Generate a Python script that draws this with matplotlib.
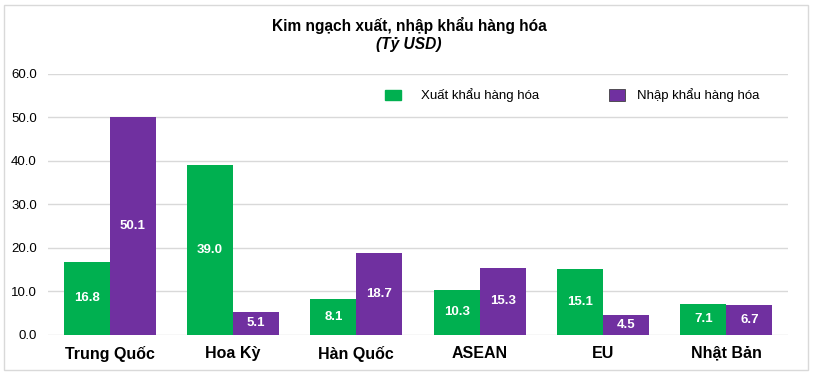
import matplotlib
matplotlib.use("Agg")
import matplotlib.pyplot as plt
import numpy as np
from matplotlib.patches import Patch, Rectangle

plt.rcParams['font.family'] = ['Liberation Sans', 'DejaVu Sans']

categories = ["Trung Quốc", "Hoa Kỳ", "Hàn Quốc", "ASEAN", "EU", "Nhật Bản"]
xuat_khau = [16.8, 39.0, 8.1, 10.3, 15.1, 7.1]
nhap_khau = [50.1, 5.1, 18.7, 15.3, 4.5, 6.7]
series_names = ["Xuất khẩu hàng hóa", "Nhập khẩu hàng hóa"]
yticks = [0, 10, 20, 30, 40, 50, 60]

GREEN = "#00B050"
PURPLE = "#7030A0"
GRID = "#D9D9D9"

fig = plt.figure(figsize=(8.18, 3.77), dpi=100)
fig.patches.append(Rectangle((4/818, 1-370/377), 804/818, 365/377, transform=fig.transFigure,
                             fill=False, edgecolor=GRID, linewidth=1.0))
ax = fig.add_axes([48/818, 1-334.5/377, 740/818, 260.5/377])

x = np.arange(len(categories))
w = 0.373
b1 = ax.bar(x - w/2, xuat_khau, w, color=GREEN, zorder=3)
b2 = ax.bar(x + w/2, nhap_khau, w, color=PURPLE, zorder=3)

for bars, vals in ((b1, xuat_khau), (b2, nhap_khau)):
    for r, v in zip(bars, vals):
        ax.text(r.get_x() + r.get_width()/2, v/2, f"{v:.1f}", ha="center", va="center",
                color="white", fontsize=9.5, fontweight="bold", zorder=4)

ax.set_xlim(-0.5, len(categories) - 0.5)
ax.set_ylim(0, 60)
ax.set_yticks(yticks)
ax.set_yticklabels([f"{t:.1f}" for t in yticks], fontsize=9.5, color="#000000")
ax.set_xticks(x)
ax.set_xticklabels(categories, fontsize=11.5, fontweight="bold", color="#000000")
ax.tick_params(axis="both", length=0)
ax.tick_params(axis="y", pad=8)
ax.tick_params(axis="x", pad=8)
for s in ax.spines.values():
    s.set_visible(False)
ax.grid(axis="y", color=GRID, linewidth=1.0, zorder=0)
ax.set_axisbelow(True)

fig.text(409/818, 1-25/377, "Kim ngạch xuất, nhập khẩu hàng hóa", ha="center", va="center",
         fontsize=11.2, fontweight="bold")
fig.text(409/818, 1-45/377, "(Tỷ USD)", ha="center", va="center",
         fontsize=11.2, fontweight="bold", style="italic")

h_green = Patch(facecolor=GREEN, edgecolor=GREEN)
h_purple = Patch(facecolor=PURPLE, edgecolor="#404040", linewidth=0.6)
leg1 = fig.legend([h_green], [series_names[0]], loc="center left", bbox_to_anchor=(385/818, 1-95.5/377),
                  frameon=False, fontsize=9.5, handlelength=1.2, handleheight=0.85,
                  handletextpad=1.5, borderaxespad=0, borderpad=0)
leg2 = fig.legend([h_purple], [series_names[1]], loc="center left", bbox_to_anchor=(609/818, 1-95.5/377),
                  frameon=False, fontsize=9.5, handlelength=1.25, handleheight=0.95,
                  handletextpad=0.85, borderaxespad=0, borderpad=0)

fig.savefig("out.png", dpi=100)
